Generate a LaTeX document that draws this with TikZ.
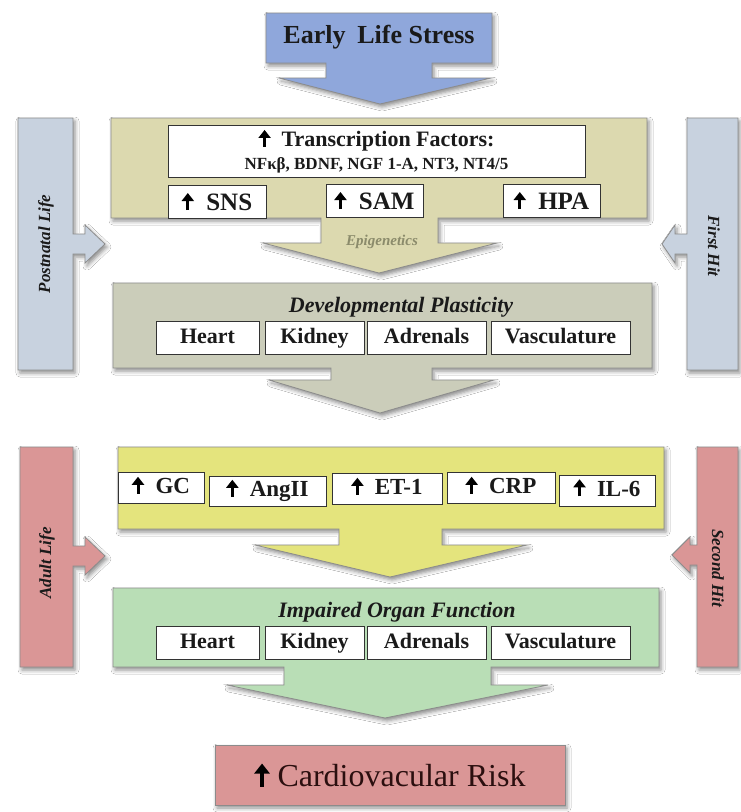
\documentclass[tikz,border=0pt]{standalone}
\usepackage{fontspec}
\setmainfont{Liberation Serif}
\usetikzlibrary{shadows.blur,arrows.meta}
\definecolor{cblue}{HTML}{8FA7DB}
\definecolor{cside}{HTML}{C8D2DF}
\definecolor{cbeige}{HTML}{DCD9AF}
\definecolor{cdev}{HTML}{CBCDBA}
\definecolor{cyel}{HTML}{E4E47D}
\definecolor{cgreen}{HTML}{B9DEB6}
\definecolor{cred}{HTML}{DA9696}
\definecolor{cedge}{HTML}{8C8C8C}
\definecolor{ctext}{HTML}{1A1A1A}
\definecolor{cepi}{HTML}{8B8B6B}
\definecolor{crisk}{HTML}{2B0F0F}
\newcommand{\upar}{\tikz[x=1pt,y=1pt,baseline=-1pt]{\draw[draw=black,line width=3pt,-{Triangle[width=12pt,length=8pt]}](0,-1)--(0,16);}}
\newcommand{\bigupar}{\tikz[x=1pt,y=1pt,baseline=-1pt]{\draw[draw=black,line width=3.4pt,-{Triangle[width=15pt,length=10pt]}](0,-1)--(0,22);}}
\tikzset{
  panel/.style={draw=cedge,line width=0.8pt,blur shadow={shadow xshift=2pt,shadow yshift=-3pt,shadow blur radius=4pt,shadow opacity=45}},
  wbox/.style={draw=black!80,fill=white,line width=0.9pt,inner sep=0pt,font=\bfseries\fontsize{25}{26}\selectfont,text=ctext},
  obox/.style={wbox,font=\bfseries\fontsize{22}{24}\selectfont,minimum height=33,text height=15.5pt,text depth=4.5pt},
  hbox/.style={wbox,font=\bfseries\fontsize{23}{24}\selectfont,minimum height=31,text height=16pt,text depth=4.5pt},
  sidetext/.style={font=\bfseries\itshape\fontsize{17}{19}\selectfont,text=ctext},
  ptitle/.style={font=\bfseries\itshape\fontsize{22}{24}\selectfont,text=ctext}
}
\begin{document}
\begin{tikzpicture}[x=1pt,y=-1pt]
\useasboundingbox (0,0) rectangle (741,812);
\fill[white] (0,0) rectangle (741,812);
% side bars
\path[panel,fill=cside] (18,118)--(73,118)--(73,234)--(85,234)--(85,225)--(105,244)--(85,263)--(85,254)--(73,254)--(73,370)--(18,370)--cycle;
\path[panel,fill=cside] (738,118)--(687,118)--(687,234)--(675,234)--(675,225)--(662,244)--(675,263)--(675,254)--(687,254)--(687,370)--(738,370)--cycle;
\path[panel,fill=cred] (20,447)--(73,447)--(73,546)--(85,546)--(85,537)--(105,556)--(85,575)--(85,566)--(73,566)--(73,667)--(20,667)--cycle;
\path[panel,fill=cred] (738,447)--(697,447)--(697,545)--(690,545)--(690,537)--(672,555)--(690,573)--(690,565)--(697,565)--(697,667)--(738,667)--cycle;
\node[sidetext,rotate=90] (pl) at (46,244) {Postnatal Life};
\node[sidetext,rotate=-90] (fh) at (714,246) {First Hit};
\node[sidetext,rotate=90] (al) at (47,563) {Adult Life};
\node[sidetext,rotate=-90] (sh) at (718,568) {Second Hit};
% top blue arrow
\path[panel,fill=cblue] (266,13)--(492,13)--(492,63)--(432,63)--(432,78)--(491,78)--(380,104)--(279,78)--(326,78)--(326,63)--(266,63)--cycle;
\node[font=\bfseries\fontsize{26}{28}\selectfont,text=ctext] (els) at (379,37) {Early\hspace{0.45em}Life Stress};
% beige panel
\path[panel,fill=cbeige] (111,118)--(647,118)--(647,218)--(438,218)--(438,243)--(497,243)--(379,273)--(263,243)--(321,243)--(321,218)--(111,218)--cycle;
\node[wbox,minimum width=417,minimum height=52,align=center] (tf) at (376.5,151)
  {\bfseries\fontsize{22}{23}\selectfont\upar\ \ Transcription Factors:\\[-3pt]
   \bfseries\fontsize{17}{18}\selectfont NFκβ, BDNF, NGF 1-A, NT3, NT4/5};
\node[wbox,minimum width=98,minimum height=33] (sns) at (217,201.5) {\upar\ \ SNS};
\node[wbox,minimum width=97,minimum height=33] (sam) at (374.5,200.5) {\upar\ \ SAM};
\node[wbox,minimum width=97,minimum height=33] (hpa) at (551.5,200.5) {\upar\ \ HPA};
\node[font=\bfseries\itshape\fontsize{15}{17}\selectfont,text=cepi] (epi) at (382,242) {Epigenetics};
% developmental plasticity
\path[panel,fill=cdev] (113,283)--(652,283)--(652,368)--(432,368)--(432,380)--(494,380)--(380,413)--(269,380)--(331,380)--(331,368)--(113,368)--cycle;
\node[ptitle] (dp) at (401,307) {Developmental Plasticity};
\node[obox,minimum width=103] (h1) at (207.5,337.5) {Heart};
\node[obox,minimum width=99] (k1) at (314.5,337.5) {Kidney};
\node[obox,minimum width=119] (a1) at (426.5,337.5) {Adrenals};
\node[obox,minimum width=139] (v1) at (560.5,337.5) {Vasculature};
% yellow panel
\path[panel,fill=cyel] (118,447)--(664,447)--(664,529)--(442,529)--(442,545)--(527,545)--(390,577)--(255,545)--(339,545)--(339,529)--(118,529)--cycle;
\node[hbox,minimum width=86] (gc) at (161,488) {\upar\ \ GC};
\node[hbox,minimum width=117,minimum height=30] (ang) at (267.5,491) {\upar\ \ AngII};
\node[hbox,minimum width=110] (et) at (387,489) {\upar\ \ ET-1};
\node[hbox,minimum width=108] (crp) at (501,488) {\upar\ \ CRP};
\node[hbox,minimum width=96] (il) at (607,490.5) {\upar\ \ IL-6};
% green panel
\path[panel,fill=cgreen] (113,588)--(659,588)--(659,667)--(491,667)--(491,685)--(548,685)--(385,718)--(227,685)--(284,685)--(284,667)--(113,667)--cycle;
\node[ptitle] (iof) at (397,612) {Impaired Organ Function};
\node[obox,minimum width=103] (h2) at (207.5,642.5) {Heart};
\node[obox,minimum width=99] (k2) at (314.5,642.5) {Kidney};
\node[obox,minimum width=119] (a2) at (426.5,642.5) {Adrenals};
\node[obox,minimum width=139] (v2) at (560.5,642.5) {Vasculature};
% cardiovascular risk
\node[panel,fill=cred,minimum width=350,minimum height=60,inner sep=0pt,font=\fontsize{32}{34}\selectfont,text=crisk] (cvr) at (390,775) {\bigupar\ Cardiovacular Risk};
\end{tikzpicture}
\end{document}
